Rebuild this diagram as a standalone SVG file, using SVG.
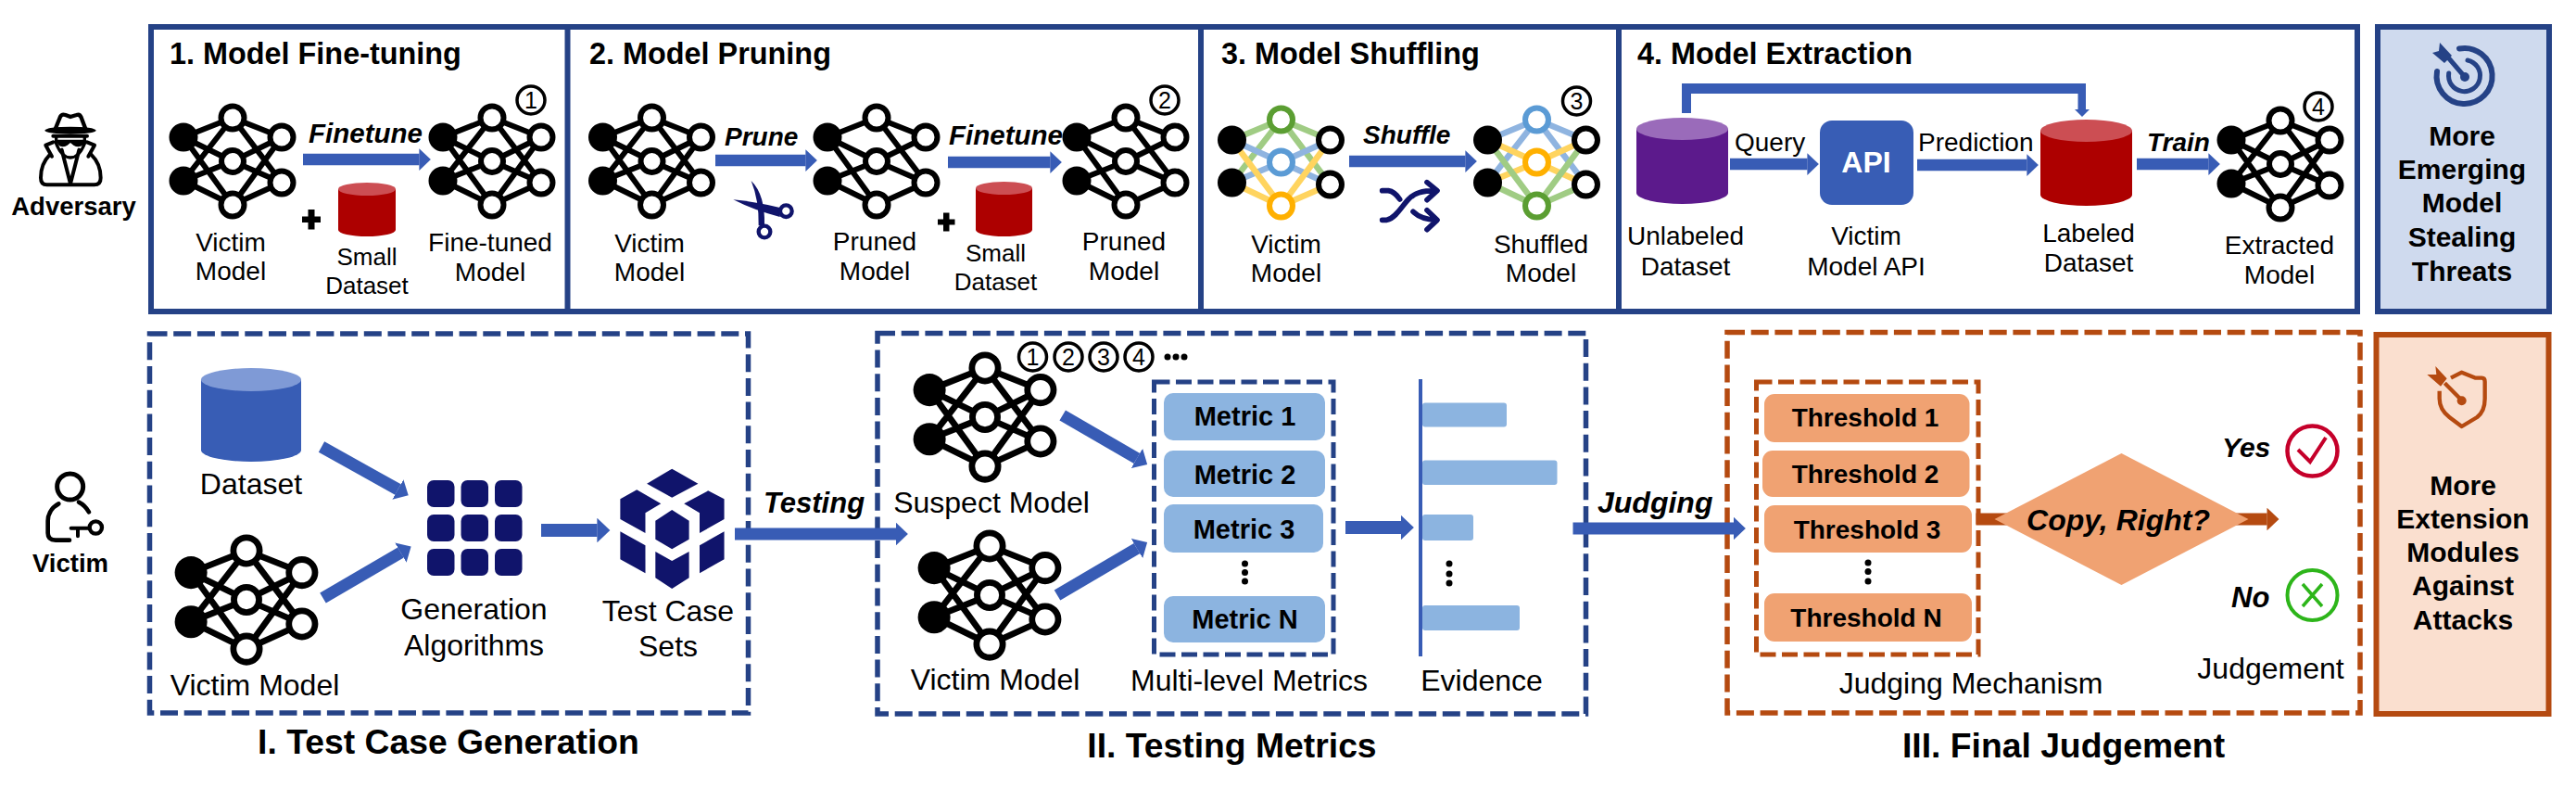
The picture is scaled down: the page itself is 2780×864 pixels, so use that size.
<svg xmlns="http://www.w3.org/2000/svg" xmlns:xlink="http://www.w3.org/1999/xlink" width="2780" height="864" viewBox="0 0 2780 864">
<style>
text{font-family:"Liberation Sans",Arial,sans-serif;fill:#000}
.m{text-anchor:middle}
.r28{font-size:28px}.r26{font-size:26px}.r32{font-size:32px}
.h{font-size:32.4px;font-weight:700}
.sec{font-size:37.3px;font-weight:700;text-anchor:middle}
.bi{font-weight:700;font-style:italic;font-size:28px}
.bi29{font-weight:700;font-style:italic;font-size:29.500px}
.bi31{font-weight:700;font-style:italic;font-size:31px}
.bi32{font-weight:700;font-style:italic;font-size:32px}
.b27{font-size:27.500px;font-weight:700;text-anchor:middle}
.b30{font-size:30px;font-weight:700;text-anchor:middle}
.mt{font-size:29px;font-weight:700;text-anchor:middle}
.th{font-size:28px;font-weight:700;text-anchor:middle}
.num{font-size:25px;text-anchor:middle}
.frame{fill:none;stroke:#254286;stroke-width:6}
.dash{fill:none;stroke:#254286;stroke-width:5.500;stroke-dasharray:19 6.7}
.dashi{fill:none;stroke:#254286;stroke-width:5;stroke-dasharray:17 6.5}
.odash{fill:none;stroke:#B54A10;stroke-width:5.500;stroke-dasharray:19 6.7}
.odashi{fill:none;stroke:#B54A10;stroke-width:5;stroke-dasharray:17 6.5}
.arr{fill:none;stroke:#385CB5;marker-end:url(#ah)}
.oarr{fill:none;stroke:#B54A10;marker-end:url(#oh)}
.metric{fill:#8CB4E0}
.thr{fill:#F0A272}
.navy{fill:#10146B}
.nstroke{fill:none;stroke:#10146B;stroke-linecap:round;stroke-linejoin:round}
.ink{fill:none;stroke:#000;stroke-linecap:round;stroke-linejoin:round}
.circ{fill:#fff;stroke:#000;stroke-width:3.500}
.e{stroke:#000;stroke-width:6;fill:none}
.w{fill:#fff;stroke:#000;stroke-width:6}
.eg{stroke:#A0CC84;stroke-width:6.500}.eb{stroke:#8FB4E0;stroke-width:6.500}.ey{stroke:#FFD45F;stroke-width:6.500}
.ng{fill:#fff;stroke:#5B9E32;stroke-width:6}.nb{fill:#fff;stroke:#5B9BD5;stroke-width:6}.ny{fill:#fff;stroke:#FFB000;stroke-width:6}
</style>
<defs>
<marker id="ah" markerWidth="1.02" markerHeight="1.9" refX="0.01" refY="0.95" orient="auto"><path d="M0 0L1 .95L0 1.9Z" fill="#385CB5"/></marker>
<marker id="oh" markerWidth="1.02" markerHeight="1.9" refX="0.01" refY="0.95" orient="auto"><path d="M0 0L1 .95L0 1.9Z" fill="#B54A10"/></marker>
<g id="nn-nodes">
<circle cx="-53" cy="-26" r="15.500"/><circle cx="-53" cy="21" r="15.500"/>
<circle class="w" cx="0" cy="-47" r="12.500"/><circle class="w" cx="0" cy="0" r="12"/><circle class="w" cx="0" cy="47" r="12.500"/>
<circle class="w" cx="53" cy="-26" r="12.500"/><circle class="w" cx="53" cy="23" r="12.500"/>
</g>
<g id="nn-full">
<path class="e" d="M-53 -26L0 -47M-53 -26L0 0M-53 -26L0 47M-53 21L0 -47M-53 21L0 0M-53 21L0 47M0 -47L53 -26M0 -47L53 23M0 0L53 -26M0 0L53 23M0 47L53 -26M0 47L53 23"/>
<use xlink:href="#nn-nodes" href="#nn-nodes"/>
</g>
<g id="nn-pruned">
<path class="e" d="M-53 -26L0 -47M-53 -26L0 0M-53 -26L0 47M-53 21L0 0M-53 21L0 47M0 -47L53 -26M0 -47L53 23M0 0L53 -26M0 0L53 23M0 47L53 23"/>
<use xlink:href="#nn-nodes" href="#nn-nodes"/>
</g>
</defs>
<rect width="2780" height="864" fill="#fff"/>

<g id="frames">
<rect class="frame" x="163" y="29" width="2381" height="307"/>
<path class="frame" d="M612.500 29V336M1296 29V336M1747 29V336"/>
<rect class="dash" x="161.500" y="360" width="646" height="409"/>
<rect class="dash" x="947" y="359.500" width="764.500" height="410.500"/>
<rect class="odash" x="1864" y="358.500" width="683" height="410.500"/>
<rect class="dashi" x="1245.500" y="412" width="193.500" height="294"/>
<rect class="odashi" x="1895.500" y="412" width="239.500" height="294"/>
</g>

<g id="connectors">
<line class="arr" stroke-width="12.500" x1="327" y1="172" x2="452.500" y2="172"/>
<line class="arr" stroke-width="12.500" x1="772" y1="173" x2="869.500" y2="173"/>
<line class="arr" stroke-width="12.500" x1="1023" y1="175" x2="1133.500" y2="175"/>
<line class="arr" stroke-width="12.500" x1="1456" y1="174" x2="1581.500" y2="174"/>
<line class="arr" stroke-width="12.500" x1="1867" y1="177" x2="1950.500" y2="177"/>
<line class="arr" stroke-width="12.500" x1="2069" y1="178" x2="2187.500" y2="178"/>
<line class="arr" stroke-width="12.500" x1="2306" y1="177" x2="2383.500" y2="177"/>
<path d="M1815 122V90H2251V118H2255L2247 126L2239 118H2242.500V101H1825V122Z" fill="#385CB5"/>
<line class="arr" stroke-width="13" x1="347" y1="482" x2="429.500" y2="528"/>
<line class="arr" stroke-width="13" x1="348.500" y1="645" x2="432.500" y2="596"/>
<line class="arr" stroke-width="14" x1="584" y1="572" x2="644.500" y2="572"/>
<line class="arr" stroke-width="13" x1="793" y1="576" x2="967" y2="576"/>
<line class="arr" stroke-width="13" x1="1146.700" y1="448" x2="1227" y2="494.500"/>
<line class="arr" stroke-width="13" x1="1141" y1="642" x2="1227" y2="591.500"/>
<line class="arr" stroke-width="14" x1="1452" y1="569" x2="1512" y2="569"/>
<line class="arr" stroke-width="13" x1="1697.500" y1="570" x2="1871" y2="570"/>
<line class="oarr" stroke-width="13" x1="2132.500" y1="560" x2="2200" y2="560" style="marker-end:none"/>
<line class="oarr" stroke-width="13" x1="2400" y1="560" x2="2446.600" y2="560"/>
</g>

<g id="adversary">
<g transform="translate(20,110) scale(.3333)">
<path class="ink" stroke-width="13" fill="#fff" d="M118 90L135 48Q140 38 152 42L168 48L188 42Q198 38 203 50L218 90"/>
<ellipse cx="168" cy="92" rx="83" ry="12" fill="#000"/>
<path class="ink" stroke-width="12" d="M112 110H222M88 140L112 130M222 130L246 140M88 140L108 176M246 140L226 176M140 155L168 265L196 155"/>
<path class="ink" stroke-width="12" d="M100 172Q72 200 72 245Q72 268 92 268H245Q266 268 266 245Q266 200 235 170"/>
<path class="ink" stroke-width="10" d="M122 110V135Q140 180 168 180Q196 180 214 135V110"/>
<path d="M122 122H214L210 138Q195 150 178 140L168 132L158 140Q140 150 128 138Z" fill="#000"/>
</g>
<text class="b27" x="79.500" y="232">Adversary</text>
</g>

<g id="victim-role">
<g transform="translate(30,500) scale(.3333)">
<circle cx="137" cy="75" r="42" fill="none" stroke="#000" stroke-width="15"/>
<path class="ink" stroke-width="14" d="M100 130C72 145 65 170 65 185V225Q65 248 90 248H135M165 125Q185 135 198 157"/>
<circle cx="220" cy="207" r="20" fill="none" stroke="#000" stroke-width="13"/>
<path class="ink" stroke-width="12" d="M140 209H200M162 209V235"/>
</g>
<text class="b27" x="76" y="617">Victim</text>
</g>

<g id="step1">
<text class="h" x="183" y="69">1. Model Fine-tuning</text>
<use xlink:href="#nn-full" href="#nn-full" x="251" y="174"/>
<text class="r28 m" x="249" y="271">Victim</text><text class="r28 m" x="249" y="302">Model</text>
<text class="bi29" x="333" y="154">Finetune</text>
<path d="M326 233.500h6.500v-7.500h7v7.500h6.500v6.500h-6.500v7.500h-7v-7.500h-6.500z" fill="#000"/>
<path d="M365 204V248A31 7 0 0 0 427 248V204Z" fill="#AD0000"/><ellipse cx="396" cy="204" rx="31" ry="7" fill="#CC4E53"/>
<text class="r26 m" x="396" y="286">Small</text><text class="r26 m" x="396" y="317">Dataset</text>
<use xlink:href="#nn-full" href="#nn-full" x="531" y="174"/>
<circle class="circ" cx="573" cy="108" r="15"/><text class="num" x="573" y="117">1</text>
<text class="r28 m" x="529" y="271">Fine-tuned</text><text class="r28 m" x="529" y="303">Model</text>
</g>

<g id="step2">
<text class="h" x="636" y="69">2. Model Pruning</text>
<use xlink:href="#nn-full" href="#nn-full" x="703.500" y="174"/>
<text class="r28 m" x="701" y="272">Victim</text><text class="r28 m" x="701" y="303">Model</text>
<text class="bi" x="782" y="157">Prune</text>
<g id="scissors" transform="translate(770,110) scale(.3333)">
<path class="navy" d="M122 255Q168 300 165 400L146 400Q148 320 122 255Z"/>
<path class="navy" d="M64 316Q130 322 215 342L215 372Q130 350 64 316Z"/>
<circle cx="165" cy="420" r="19" fill="none" stroke="#10146B" stroke-width="13"/>
<circle cx="235" cy="353" r="19" fill="none" stroke="#10146B" stroke-width="13"/>
</g>
<use xlink:href="#nn-pruned" href="#nn-pruned" x="946" y="174"/>
<text class="r28 m" x="944" y="270">Pruned</text><text class="r28 m" x="944" y="302">Model</text>
<text class="bi29" x="1024" y="156">Finetune</text>
<path d="M1012 236.500h6v-7h6.500v7h6v6h-6v7h-6.500v-7h-6z" fill="#000"/>
<path d="M1053 203V248A30.500 7 0 0 0 1114 248V203Z" fill="#AD0000"/><ellipse cx="1083.500" cy="203" rx="30.500" ry="7" fill="#CC4E53"/>
<text class="r26 m" x="1074.500" y="282">Small</text><text class="r26 m" x="1074.500" y="313">Dataset</text>
<use xlink:href="#nn-pruned" href="#nn-pruned" x="1215" y="174"/>
<circle class="circ" cx="1257" cy="108" r="15"/><text class="num" x="1257" y="117">2</text>
<text class="r28 m" x="1213" y="270">Pruned</text><text class="r28 m" x="1213" y="302">Model</text>
</g>

<g id="step3">
<text class="h" x="1318" y="69">3. Model Shuffling</text>
<g id="nn-colored-a" transform="translate(1382.500,175)">
<path class="eg" fill="none" d="M-53 -24L0 -46M-53 22L0 -46M0 -46L53 -24M0 -46L53 24"/>
<path class="eb" fill="none" d="M-53 -24L0 0M-53 22L0 0M0 0L53 -24M0 0L53 24"/>
<path class="ey" fill="none" d="M-53 -24L0 47M-53 22L0 47M0 47L53 -24M0 47L53 24"/>
<circle cx="-53" cy="-24" r="15.500"/><circle cx="-53" cy="22" r="15.500"/>
<circle class="ng" cx="0" cy="-46" r="12.500"/><circle class="nb" cx="0" cy="0" r="12.500"/><circle class="ny" cx="0" cy="47" r="12.500"/>
<circle class="w" cx="53" cy="-24" r="12.500"/><circle class="w" cx="53" cy="24" r="12.500"/>
</g>
<text class="r28 m" x="1388" y="273">Victim</text><text class="r28 m" x="1388" y="304">Model</text>
<text class="bi" x="1471" y="155">Shuffle</text>
<g id="shuffle" transform="translate(1470,185) scale(.3333)">
<path class="nstroke" stroke-width="17" d="M65 62H85Q105 65 122 90M65 157H80C110 150 130 110 150 90C170 70 190 62 240 62M210 35L243 62L210 92M165 130Q190 155 240 157M210 125L243 157L210 188"/>
</g>
<g id="nn-colored-b" transform="translate(1658.500,175)">
<path class="eb" fill="none" d="M-53 -24L0 -46M-53 22L0 -46M0 -46L53 -24M0 -46L53 24"/>
<path class="ey" fill="none" d="M-53 -24L0 0M-53 22L0 0M0 0L53 -24M0 0L53 24"/>
<path class="eg" fill="none" d="M-53 -24L0 47M-53 22L0 47M0 47L53 -24M0 47L53 24"/>
<circle cx="-53" cy="-24" r="15.500"/><circle cx="-53" cy="22" r="15.500"/>
<circle class="nb" cx="0" cy="-46" r="12.500"/><circle class="ny" cx="0" cy="0" r="12.500"/><circle class="ng" cx="0" cy="47" r="12.500"/>
<circle class="w" cx="53" cy="-24" r="12.500"/><circle class="w" cx="53" cy="24" r="12.500"/>
</g>
<circle class="circ" cx="1701.500" cy="109" r="15"/><text class="num" x="1701.500" y="118">3</text>
<text class="r28 m" x="1663" y="273">Shuffled</text><text class="r28 m" x="1663" y="304">Model</text>
</g>

<g id="step4">
<text class="h" x="1767" y="69">4. Model Extraction</text>
<path d="M1766 139V208A49.500 12 0 0 0 1865 208V139Z" fill="#5C1A8C"/><ellipse cx="1815.500" cy="139" rx="49.500" ry="12" fill="#9A6BBA"/>
<text class="r28 m" x="1819" y="264">Unlabeled</text><text class="r28 m" x="1819" y="297">Dataset</text>
<text class="r28" x="1872" y="163">Query</text>
<rect x="1964" y="130" width="101" height="91" rx="13" fill="#385DB5"/>
<text class="b30" x="2014" y="186" style="fill:#fff;font-size:32px">API</text>
<text class="r28 m" x="2014" y="264">Victim</text><text class="r28 m" x="2014" y="297">Model API</text>
<text class="r28" x="2070" y="163">Prediction</text>
<path d="M2202 141V210A49.500 12 0 0 0 2301 210V141Z" fill="#AD0000"/><ellipse cx="2251.500" cy="141" rx="49.500" ry="12" fill="#CC4E53"/>
<text class="r28 m" x="2254" y="261">Labeled</text><text class="r28 m" x="2254" y="293">Dataset</text>
<text class="bi" x="2317" y="163">Train</text>
<use xlink:href="#nn-full" href="#nn-full" transform="translate(2461,177)"/>
<circle class="circ" cx="2502" cy="115" r="15"/><text class="num" x="2502" y="124">4</text>
<text class="r28 m" x="2460" y="274">Extracted</text><text class="r28 m" x="2460" y="306">Model</text>
</g>

<g id="threat-box">
<rect x="2566" y="29" width="185" height="307" fill="#CFDAEE" stroke="#254286" stroke-width="6"/>
<g fill="none" stroke="#254286" stroke-linecap="round">
<path stroke-width="6" d="M2654 52.500A30 30 0 1 1 2630 77"/>
<path stroke-width="5" d="M2663 65A17 17 0 1 1 2642.700 79"/>
<path stroke-width="5" d="M2660 83L2636 55"/>
</g>
<circle cx="2660" cy="83" r="5" fill="#254286"/>
<path d="M2633 46L2646 60L2638 68L2625 57L2632 55Z" fill="#254286"/>
<text class="b30" x="2657" y="157">More</text><text class="b30" x="2657" y="193">Emerging</text><text class="b30" x="2657" y="229">Model</text><text class="b30" x="2657" y="266">Stealing</text><text class="b30" x="2657" y="303">Threats</text>
</g>

<g id="test-case-generation">
<path d="M217 409.500V485.500A54 12.500 0 0 0 325 485.500V409.500Z" fill="#385DB5"/><ellipse cx="271" cy="409.500" rx="54" ry="12.500" fill="#7F9AD6"/>
<text class="r32 m" x="271" y="533">Dataset</text>
<use xlink:href="#nn-full" href="#nn-full" transform="translate(266,647) scale(1.13)"/>
<text class="r32 m" x="275" y="750">Victim Model</text>
<g id="algo-grid" class="navy">
<rect x="461" y="518" width="29.500" height="29" rx="7"/><rect x="497.500" y="518" width="29.500" height="29" rx="7"/><rect x="534" y="518" width="29.500" height="29" rx="7"/>
<rect x="461" y="555" width="29.500" height="29" rx="7"/><rect x="497.500" y="555" width="29.500" height="29" rx="7"/><rect x="534" y="555" width="29.500" height="29" rx="7"/>
<rect x="461" y="592" width="29.500" height="29" rx="7"/><rect x="497.500" y="592" width="29.500" height="29" rx="7"/><rect x="534" y="592" width="29.500" height="29" rx="7"/>
</g>
<text class="r32 m" x="511.500" y="668">Generation</text><text class="r32 m" x="511.500" y="707">Algorithms</text>
<g id="cube" class="navy" transform="translate(0,340) scale(.542,.3333)">
<polygon points="1338,497 1390,545 1338,590 1288,545"/>
<polygon points="1268,565 1316,610 1285,640 1285,705 1235,660 1235,595"/>
<polygon points="1410,568 1362,610 1393,640 1393,705 1442,660 1442,595"/>
<polygon points="1338,630 1372,665 1372,725 1338,757 1305,725 1305,665"/>
<polygon points="1235,700 1285,745 1285,835 1235,790"/>
<polygon points="1442,700 1393,745 1393,835 1442,790"/>
<polygon points="1305,765 1338,795 1372,765 1372,850 1338,885 1305,850"/>
</g>
<text class="r32 m" x="721" y="670">Test Case</text><text class="r32 m" x="721" y="708">Sets</text>
<text class="sec" x="484" y="813">I. Test Case Generation</text>
</g>

<g id="testing-label"><text class="bi31" x="824" y="553">Testing</text></g>

<g id="testing-metrics">
<use xlink:href="#nn-full" href="#nn-full" transform="translate(1063,450) scale(1.13)"/>
<text class="r32 m" x="1070" y="553">Suspect Model</text>
<use xlink:href="#nn-full" href="#nn-full" transform="translate(1068,642) scale(1.13)"/>
<text class="r32 m" x="1074" y="744">Victim Model</text>
<g id="order-marks">
<circle class="circ" cx="1114.500" cy="385" r="15"/><text class="num" x="1114.500" y="394">1</text>
<circle class="circ" cx="1153" cy="385" r="15"/><text class="num" x="1153" y="394">2</text>
<circle class="circ" cx="1191" cy="385" r="15"/><text class="num" x="1191" y="394">3</text>
<circle class="circ" cx="1229" cy="385" r="15"/><text class="num" x="1229" y="394">4</text>
<circle cx="1260" cy="385" r="3.500"/><circle cx="1269" cy="385" r="3.500"/><circle cx="1278" cy="385" r="3.500"/>
</g>
<g id="metric-1"><rect class="metric" x="1256" y="424" width="174" height="51" rx="10"/><text class="mt" x="1343.500" y="459">Metric 1</text></g>
<g id="metric-2"><rect class="metric" x="1256" y="486" width="174" height="50" rx="10"/><text class="mt" x="1343.500" y="521.500">Metric 2</text></g>
<g id="metric-3"><rect class="metric" x="1256" y="544" width="172" height="52" rx="10"/><text class="mt" x="1342.500" y="580.500">Metric 3</text></g>
<circle cx="1343.500" cy="608" r="3.500"/><circle cx="1343.500" cy="617.500" r="3.500"/><circle cx="1343.500" cy="627" r="3.500"/>
<g id="metric-n"><rect class="metric" x="1256" y="643" width="174" height="50" rx="10"/><text class="mt" x="1343.500" y="678">Metric N</text></g>
<text class="r32 m" x="1348" y="745">Multi-level Metrics</text>
<g id="evidence">
<rect x="1531" y="409" width="4" height="299" fill="#385CB5"/>
<rect class="metric" x="1535" y="434.500" width="91" height="26" rx="3"/>
<rect class="metric" x="1535" y="496.500" width="145.500" height="26.500" rx="3"/>
<rect class="metric" x="1535" y="555" width="55" height="28" rx="3"/>
<circle cx="1564" cy="608" r="3.500"/><circle cx="1564" cy="619" r="3.500"/><circle cx="1564" cy="629" r="3.500"/>
<rect class="metric" x="1535" y="653" width="105" height="27" rx="3"/>
<text class="r32 m" x="1599" y="745">Evidence</text>
</g>
<text class="sec" x="1329.500" y="817">II. Testing Metrics</text>
</g>

<g id="judging-label"><text class="bi32" x="1724" y="553">Judging</text></g>

<g id="final-judgement">
<g id="threshold-1"><rect class="thr" x="1904" y="425" width="221.500" height="52" rx="11"/><text class="th" x="2013" y="460">Threshold 1</text></g>
<g id="threshold-2"><rect class="thr" x="1902" y="486" width="223.500" height="50" rx="11"/><text class="th" x="2013" y="521">Threshold 2</text></g>
<g id="threshold-3"><rect class="thr" x="1904" y="545" width="224" height="51" rx="11"/><text class="th" x="2015" y="581">Threshold 3</text></g>
<circle cx="2016" cy="607" r="3.500"/><circle cx="2016" cy="616.500" r="3.500"/><circle cx="2016" cy="627" r="3.500"/>
<g id="threshold-n"><rect class="thr" x="1904" y="640" width="224" height="52" rx="11"/><text class="th" x="2014" y="676">Threshold N</text></g>
<text class="r32 m" x="2127" y="748">Judging Mechanism</text>
<g id="decision"><polygon points="2289.500,489 2426.500,560 2289.500,631 2152.500,560" fill="#F0A272"/>
<text class="bi32" x="2286" y="572" text-anchor="middle">Copy, Right?</text></g>
<text class="bi31" x="2398" y="493" style="font-size:30px">Yes</text>
<g id="yes-mark"><circle cx="2495.500" cy="486.500" r="27" fill="#fff" stroke="#C5002A" stroke-width="4.500"/><path d="M2480 485L2493 498L2510 472" fill="none" stroke="#C5002A" stroke-width="4"/></g>
<text class="bi31" x="2408" y="655">No</text>
<g id="no-mark"><circle cx="2495.500" cy="642" r="27" fill="#fff" stroke="#2DB51A" stroke-width="4"/><path d="M2485 630L2506 654M2506 630L2485 654" fill="none" stroke="#2DB51A" stroke-width="3.500"/></g>
<text class="r32 m" x="2450.500" y="731.500">Judgement</text>
<text class="sec" x="2227" y="817">III. Final Judgement</text>
</g>

<g id="extension-box">
<rect x="2564.500" y="361" width="186" height="409" fill="#FADFCF" stroke="#B54A10" stroke-width="6"/>
<g transform="translate(2610,385) scale(.3333)">
<path fill="none" stroke="#B54A10" stroke-width="13" stroke-linejoin="round" stroke-linecap="butt" d="M105 68L140 50L185 68H205Q215 68 215 80V135Q215 175 190 195L140 225L100 195Q68 170 68 135V110"/>
<path stroke="#B54A10" stroke-width="13" d="M85 85L140 140"/>
<circle cx="140" cy="142" r="15" fill="#B54A10"/>
<polygon points="55,30 92,70 72,95 28,57 58,57" fill="#B54A10"/>
</g>
<text class="b30" x="2658" y="534">More</text><text class="b30" x="2658" y="570">Extension</text><text class="b30" x="2658" y="606">Modules</text><text class="b30" x="2658" y="642">Against</text><text class="b30" x="2658" y="679">Attacks</text>
</g>
</svg>
